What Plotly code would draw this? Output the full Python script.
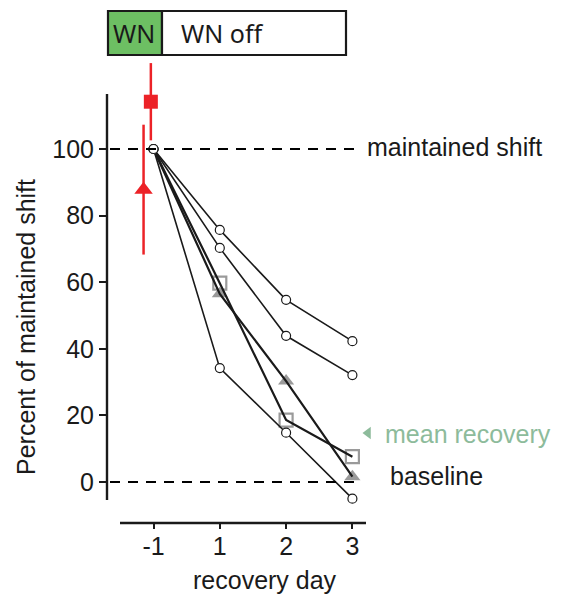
import plotly.graph_objects as go

# ---------------- data ----------------
day_pos = [0, 1, 2, 3]
day_labels = ["-1", "1", "2", "3"]

bird_a = [100, 75.7, 54.7, 42.3]
bird_b = [100, 70.3, 43.9, 32.1]
bird_c = [100, 34.2, 14.8, -5.0]
bird_sq = [100, 59.7, 18.6, 7.6]
bird_tri = [100, 56.5, 30.3, 1.6]

wn_sq_x = [-0.04]
wn_sq_y = [114.2]
wn_sq_err = [11.6]
wn_tri_x = [-0.15]
wn_tri_y = [87.8]
wn_tri_err = [19.5]

y_ticks = [0, 20, 40, 60, 80, 100]

# ---------------- geometry (reference-window pixels) ----------------
OFF = 8                      # default page body margin
W, H = 564 - OFF, 598 - OFF  # figure size
X0PX, XK = 153.5, 66.3       # pixel of x=0, px per unit
Y0PX, YK = 482.0, 3.33       # pixel of y=0, px per unit
PL, PR, PT, PB = 107, 564, 60, 523


def xv(px):
    return (px - X0PX) / XK


def yv(py):
    return (Y0PX - py) / YK


def fx(px):
    return (px - OFF) / W


def fy(py):
    return 1 - (py - OFF) / H


FONT = "Liberation Sans, Arial, sans-serif"
FS = 25
INK = "#1a1a1a"
GRAY = "#9a9a9a"
RED = "#ec2227"
GREEN_TXT = "#8dbb9b"

fig = go.Figure()

# gray markers (drawn under the lines)
fig.add_trace(go.Scatter(x=day_pos[1:], y=bird_sq[1:], mode="markers",
                         marker=dict(symbol="square-open", size=13, color=GRAY,
                                     line=dict(width=2.2, color=GRAY)),
                         showlegend=False, hoverinfo="skip"))
fig.add_trace(go.Scatter(x=day_pos[1:], y=bird_tri[1:], mode="markers",
                         marker=dict(symbol="triangle-up", size=14, color=GRAY,
                                     line=dict(width=0)),
                         showlegend=False, hoverinfo="skip"))

# lines
for ys, w in [(bird_a, 1.6), (bird_b, 1.6), (bird_c, 1.6), (bird_sq, 2.2), (bird_tri, 2.2)]:
    fig.add_trace(go.Scatter(x=day_pos, y=ys, mode="lines",
                             line=dict(color=INK, width=w),
                             showlegend=False, hoverinfo="skip"))

# open circles on top
for ys in [bird_a, bird_b, bird_c]:
    fig.add_trace(go.Scatter(x=day_pos, y=ys, mode="markers",
                             marker=dict(symbol="circle", size=9, color="white",
                                         line=dict(width=1.2, color=INK)),
                             showlegend=False, hoverinfo="skip"))

# red WN points with error bars
fig.add_trace(go.Scatter(x=wn_sq_x, y=wn_sq_y, mode="markers",
                         marker=dict(symbol="square", size=14, color=RED),
                         error_y=dict(type="data", array=wn_sq_err, color=RED,
                                      thickness=2.5, width=0),
                         showlegend=False, hoverinfo="skip"))
fig.add_trace(go.Scatter(x=wn_tri_x, y=wn_tri_y, mode="markers",
                         marker=dict(symbol="triangle-up", size=16, color=RED),
                         error_y=dict(type="data", array=wn_tri_err, color=RED,
                                      thickness=2.5, width=0),
                         showlegend=False, hoverinfo="skip"))

# green "mean recovery" marker
fig.add_trace(go.Scatter(x=[xv(368)], y=[yv(433)], mode="markers",
                         marker=dict(symbol="triangle-left", size=11, color=GREEN_TXT),
                         showlegend=False, hoverinfo="skip", cliponaxis=False))

shapes = []
# dashed reference lines
for yy in [100, 0]:
    shapes.append(dict(type="line", xref="x", yref="y", x0=xv(110), x1=xv(356),
                       y0=yy, y1=yy, line=dict(color="black", width=2.2, dash="10px,8px")))
# axis lines
shapes.append(dict(type="line", xref="x", yref="paper", x0=xv(120), x1=xv(366),
                   y0=fy(PB), y1=fy(PB), line=dict(color=INK, width=2.4)))
shapes.append(dict(type="line", xref="paper", yref="y", x0=fx(PL), x1=fx(PL),
                   y0=yv(500), y1=yv(94), line=dict(color=INK, width=2.4)))
# WN box
shapes.append(dict(type="rect", xref="paper", yref="paper",
                   x0=fx(108), x1=fx(162), y0=fy(55), y1=fy(11),
                   fillcolor="#6dbf63", line=dict(color=INK, width=2.2)))
shapes.append(dict(type="rect", xref="paper", yref="paper",
                   x0=fx(162), x1=fx(346), y0=fy(55), y1=fy(11),
                   fillcolor="white", line=dict(color=INK, width=2.2)))

annotations = [
    dict(text="WN", xref="paper", yref="paper", x=fx(134), y=fy(33),
         xanchor="center", yanchor="middle", showarrow=False,
         font=dict(family="Noto Sans, sans-serif", size=25, color=INK)),
    dict(text="WN off", xref="paper", yref="paper", x=fx(179), y=fy(33),
         xanchor="left", yanchor="middle", showarrow=False,
         font=dict(family="Noto Sans, sans-serif", size=25, color=INK)),
    dict(text="maintained shift", xref="x", yref="y", x=xv(365), y=yv(147),
         xanchor="left", yanchor="middle", showarrow=False,
         font=dict(family=FONT, size=FS, color=INK)),
    dict(text="baseline", xref="x", yref="y", x=xv(388), y=yv(476),
         xanchor="left", yanchor="middle", showarrow=False,
         font=dict(family=FONT, size=FS, color=INK)),
    dict(text="mean recovery", xref="x", yref="y", x=xv(383), y=yv(434),
         xanchor="left", yanchor="middle", showarrow=False,
         font=dict(family=FONT, size=FS, color=GREEN_TXT)),
    dict(text="Percent of maintained shift", xref="paper", yref="paper",
         x=fx(26), y=fy(327), xanchor="center", yanchor="middle",
         textangle=-90, showarrow=False,
         font=dict(family=FONT, size=FS, color=INK)),
    dict(text="recovery day", xref="paper", yref="paper",
         x=fx(265), y=fy(580), xanchor="center", yanchor="middle",
         showarrow=False, font=dict(family=FONT, size=FS, color=INK)),
]

fig.update_layout(
    width=W, height=H,
    margin=dict(l=0, r=0, t=0, b=0),
    paper_bgcolor="white", plot_bgcolor="white",
    shapes=shapes, annotations=annotations,
    xaxis=dict(domain=[fx(PL), fx(PR)], range=[xv(PL), xv(PR)],
               tickmode="array", tickvals=day_pos, ticktext=day_labels,
               ticks="outside", ticklen=5, tickwidth=2, tickcolor=INK,
               ticklabelstandoff=-4,
               showline=False, showgrid=False, zeroline=False,
               tickfont=dict(family=FONT, size=FS, color=INK)),
    yaxis=dict(domain=[fy(PB), fy(PT)], range=[yv(PB), yv(PT)],
               tickmode="array", tickvals=y_ticks,
               ticks="outside", ticklen=7, tickwidth=2, tickcolor=INK,
               showline=False, showgrid=False, zeroline=False,
               tickfont=dict(family=FONT, size=FS, color=INK)),
)

fig.write_html("out.html")
